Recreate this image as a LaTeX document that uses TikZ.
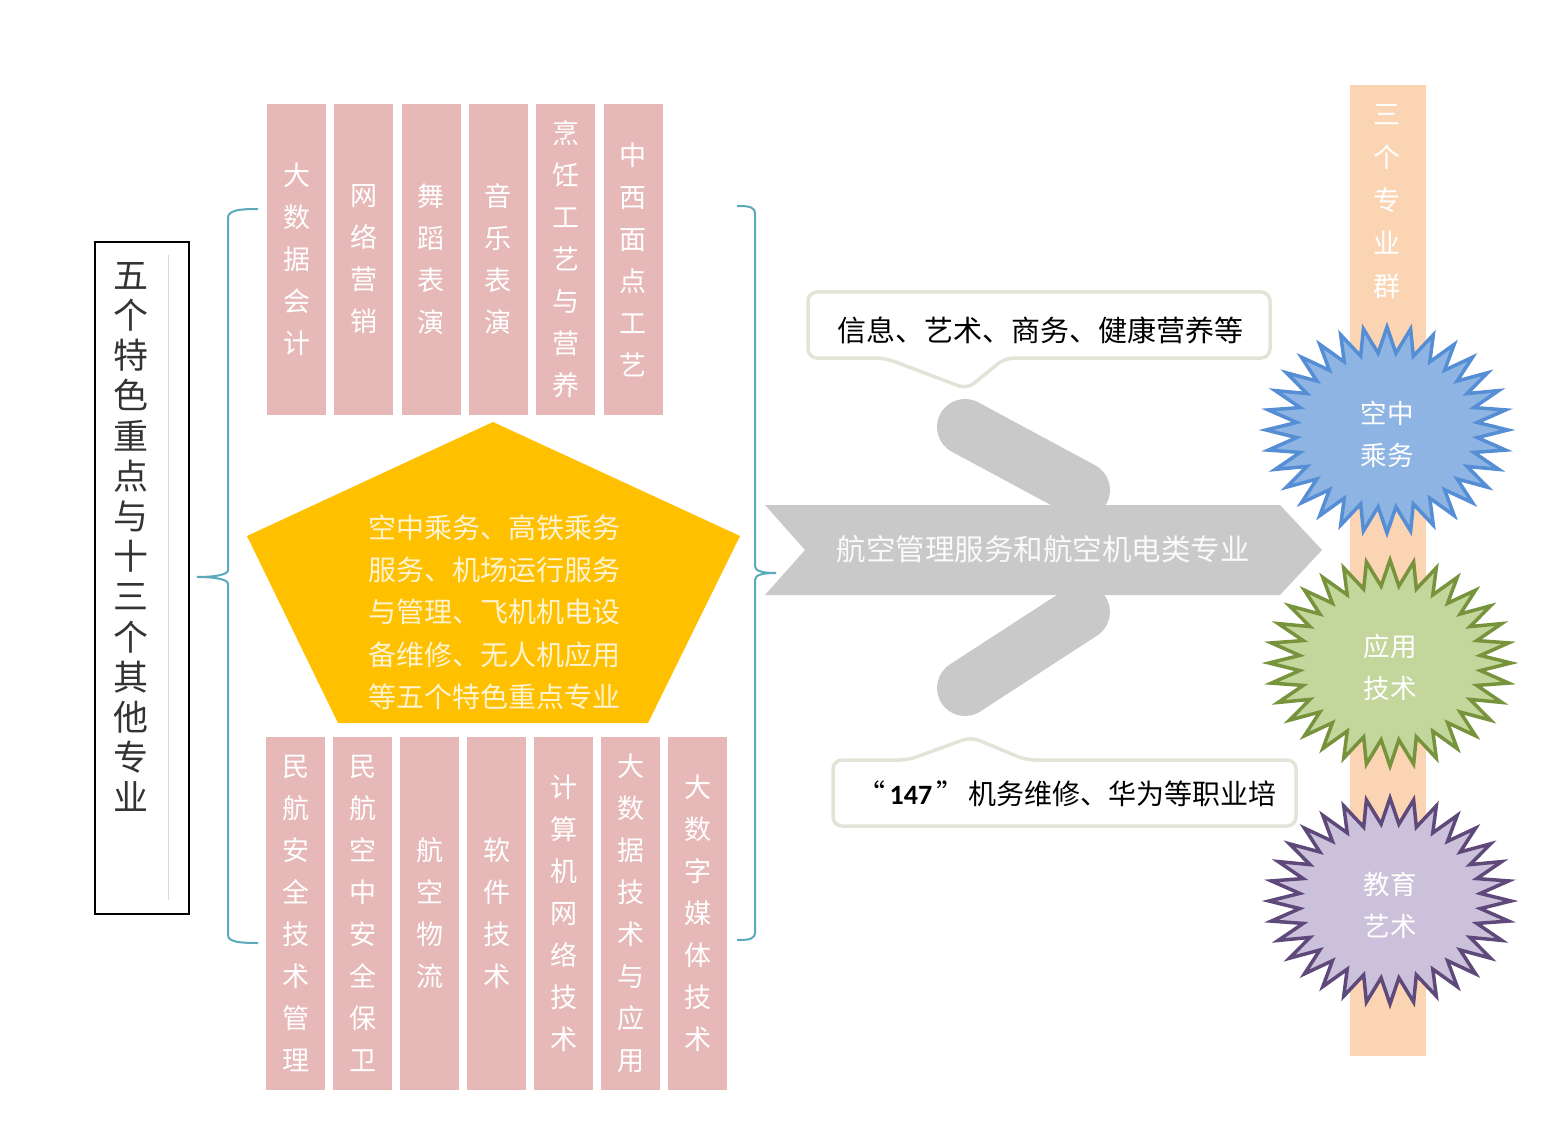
\documentclass[tikz,border=0pt]{standalone}
\usepackage{fontspec}
\setmainfont{Noto Sans CJK SC}
\newfontfamily\numfont{Carlito}
\usepackage{xcolor}
\usepackage{tikz}
\usetikzlibrary{positioning, calc}
\definecolor{majorpink}{HTML}{E6B9B8}
\definecolor{coreyellow}{HTML}{FFC000}
\definecolor{coretext}{HTML}{FFF4D2}
\definecolor{braceteal}{HTML}{5AA9BC}
\definecolor{flowgray}{HTML}{C9C9C9}
\definecolor{noteline}{HTML}{E2E4D8}
\definecolor{barpeach}{HTML}{FBD4B4}
\definecolor{blueface}{HTML}{8DB4E2}
\definecolor{blueedge}{HTML}{558ED5}
\definecolor{greenface}{HTML}{C3D69B}
\definecolor{greenedge}{HTML}{77933C}
\definecolor{purpleface}{HTML}{CCC1DA}
\definecolor{purpleedge}{HTML}{5F497A}
\tikzset{
  major/.style ={fill=majorpink, minimum width=59, minimum height=310, inner sep=0pt,
                 align=center, text=white, font=\fontsize{27}{42}\selectfont},
  brace/.style ={draw=braceteal, line width=2},
  capsule/.style={draw=flowgray, line width=56, line cap=round},
  callout/.style={draw=noteline, line width=3.5, fill=white, rounded corners=9},
  notetext/.style={text=black, inner sep=0pt, font=\fontsize{28}{34}\selectfont},
  vtext/.style ={text=white, inner sep=0pt, align=center, font=\fontsize{27}{43}\selectfont},
  blueburst/.style  ={fill=blueface, draw=blueedge, line width=3.5},
  greenburst/.style ={fill=greenface, draw=greenedge, line width=3.5},
  purpleburst/.style={fill=purpleface, draw=purpleedge, line width=3.5}
}

\begin{document}
\begin{tikzpicture}[x=1pt, y=-1pt]
  \useasboundingbox (0,0) rectangle (1547,1123);

  % title box
  \node[draw=black, line width=1.2, minimum width=94, minimum height=672, inner sep=0pt]
    (title) at (142,578) {};
  \draw[black!15, line width=1] (168,255) -- (168,900);
  \node[align=center, inner sep=0pt, text=black!80, font=\fontsize{35}{40.2}\selectfont]
    (titletext) at (131,537) {五\\个\\特\\色\\重\\点\\与\\十\\三\\个\\其\\他\\专\\业};

  % braces
  \draw[brace] (258,209) .. controls (240,209) and (228,210) .. (228,218) -- (228,570)
    .. controls (228,575) and (214,577) .. (197,577)
    .. controls (214,577) and (228,579) .. (228,584) -- (228,935)
    .. controls (228,942) and (240,943) .. (258,943);
  \draw[brace] (737,206) .. controls (750,206) and (755,207) .. (755,214) -- (755,566)
    .. controls (755,571) and (762,573) .. (776,573)
    .. controls (762,573) and (755,575) .. (755,580) -- (755,932)
    .. controls (755,939) and (750,940) .. (737,940);

  % top majors
  \foreach \t [count=\i] in {{大\\数\\据\\会\\计}, {网\\络\\营\\销}, {舞\\蹈\\表\\演},
      {音\\乐\\表\\演}, {烹\\饪\\工\\艺\\与\\营\\养}, {中\\西\\面\\点\\工\\艺}}
    \node[major] (top\i) at ({296.5+(\i-1)*67.3},259.5) {\t};

  % bottom majors
  \foreach \t [count=\i] in {{民\\航\\安\\全\\技\\术\\管\\理}, {民\\航\\空\\中\\安\\全\\保\\卫},
      {航\\空\\物\\流}, {软\\件\\技\\术}, {计\\算\\机\\网\\络\\技\\术},
      {大\\数\\据\\技\\术\\与\\应\\用}, {大\\数\\字\\媒\\体\\技\\术}}
    \node[major, minimum height=353] (bot\i) at ({295.5+(\i-1)*67},913) {\t};

  % five key majors
  \fill[coreyellow] (493,422) -- (740,536) -- (648,723) -- (338,723) -- (247,536) -- cycle;
  \node[align=center, inner sep=0pt, text=coretext, font=\fontsize{28}{42.3}\selectfont]
    (core) at (494,612) {空中乘务、高铁乘务\\服务、机场运行服务\\与管理、飞机机电设\\备维修、无人机应用\\等五个特色重点专业};

  % flow arrow
  \fill[flowgray] (765,505) -- (1280,505) -- (1322,550) -- (1280,595) -- (765,595) -- (805,550) -- cycle;
  \draw[capsule] (965,427) -- (1082,490);
  \draw[capsule] (1082,612) -- (965,688);
  \node[inner sep=0pt, text=white!96!gray, font=\fontsize{29.5}{34}\selectfont]
    (flow) at (1043,549) {航空管理服务和航空机电类专业};

  % callouts
  \draw[callout] (808,292) -- (1270,292) -- (1270,358) -- (1005,358) -- (967,389)
    -- (885,358) -- (808,358) -- cycle;
  \node[notetext, font=\fontsize{29}{34}\selectfont] (note1) at (1040,330) {信息、艺术、商务、健康营养等};
  \draw[callout] (833,760) -- (908,760) -- (971,737) -- (1026,760) -- (1296,760)
    -- (1296,826) -- (833,826) -- cycle;
  \node[notetext] (note2) at (1067,794)
    {“\hspace{4pt}{\numfont\bfseries 147}\hspace{4pt}”\hspace{4pt}机务维修、华为等职业培};

  % three groups
  \node[fill=barpeach, minimum width=76, minimum height=971, inner sep=0pt]
    (groupbar) at (1388,570.5) {};
  \node[vtext] (grouptitle) at (1387,202) {三\\个\\专\\业\\群};
  \foreach \cx/\cy/\sty/\nm/\txt in {1387/430/blueburst/air/{空中\\乘务},
      1390/663/greenburst/tech/{应用\\技术}, 1390/901/purpleburst/art/{教育\\艺术}} {
    \draw[\sty] (\cx+121,\cy) \foreach \k in {1,...,63} {
      -- ({\cx+121*(1-0.25*mod(\k,2))*cos(\k*5.625)}, {\cy+103*(1-0.25*mod(\k,2))*sin(\k*5.625)}) } -- cycle;
    \node[vtext, font=\fontsize{26.5}{42}\selectfont] (\nm) at (\cx,\cy+4) {\txt};
  }
\end{tikzpicture}
\end{document}
